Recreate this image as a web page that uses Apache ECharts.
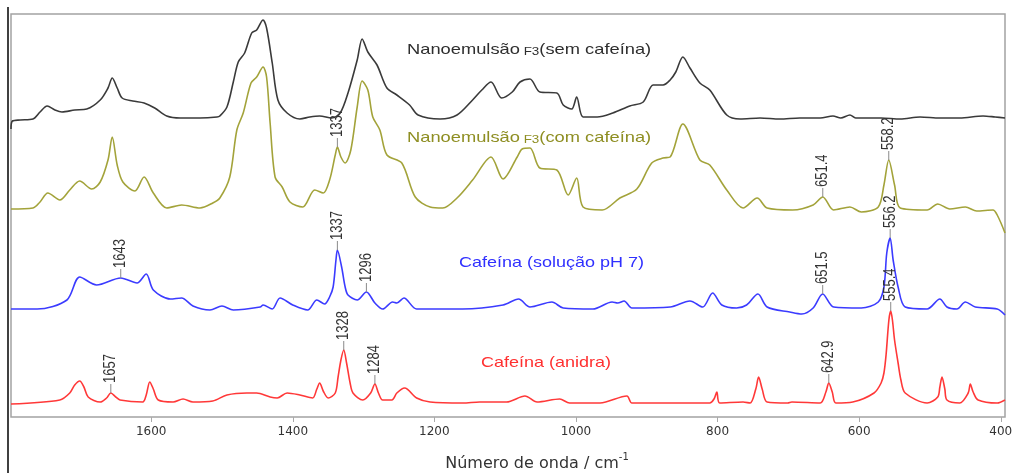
<!DOCTYPE html>
<html><head><meta charset="utf-8">
<script src="https://cdn.jsdelivr.net/npm/echarts@6/dist/echarts.min.js"></script>
<style>html,body{margin:0;padding:0;background:#fff}#c{width:1015px;height:473px}</style>
</head><body><div id="c"></div>
<script>
// x tick labels (cm-1)
const ticks = [1600, 1400, 1200, 1000, 800, 600, 400];

// Nanoemulsão F3 (sem cafeína) — [wavenumber, intensity (arb.)]
const semCafeina = [[1798,288],[1796,296],[1785,297],[1767,298],[1757,305],[1747,311],[1736,307],[1726,305],[1708,307],[1691,308],[1672,317],[1661,329],[1655,339],[1648,329],[1641,319],[1626,316],[1610,314],[1595,309],[1578,301],[1559,299],[1531,299],[1507,300],[1503,301],[1493,310],[1484,335],[1477,355],[1468,364],[1458,384],[1451,387],[1442,397],[1437,389],[1429,354],[1421,317],[1408,304],[1390,298],[1376,300],[1362,301],[1345,299],[1333,304],[1322,324],[1309,357],[1302,378],[1294,365],[1281,352],[1267,329],[1253,322],[1235,312],[1223,302],[1192,298],[1168,302],[1146,317],[1133,327],[1120,335],[1105,319],[1090,325],[1079,335],[1065,338],[1051,325],[1027,324],[1018,312],[1006,308],[999,320],[990,300],[970,300],[948,304],[924,311],[905,315],[891,332],[877,332],[867,337],[859,345],[849,360],[839,349],[825,334],[811,327],[787,302],[768,298],[740,299],[712,298],[684,299],[655,299],[637,301],[626,299],[613,302],[605,299],[569,299],[542,298],[514,300],[486,299],[458,299],[425,301],[408,300],[394,299]];

// Nanoemulsão F3 (com cafeína)
const comCafeina = [[1798,208],[1767,209],[1757,215],[1746,224],[1729,217],[1715,227],[1701,236],[1684,228],[1672,235],[1661,257],[1655,280],[1648,252],[1640,235],[1623,226],[1610,240],[1597,224],[1578,209],[1557,212],[1531,209],[1513,214],[1503,219],[1489,240],[1479,287],[1470,304],[1459,334],[1451,340],[1442,350],[1437,340],[1432,294],[1425,240],[1415,230],[1404,215],[1386,210],[1369,227],[1357,224],[1348,237],[1340,262],[1337,270],[1332,260],[1326,254],[1318,267],[1309,310],[1302,336],[1294,327],[1287,300],[1277,287],[1267,262],[1246,254],[1227,220],[1206,210],[1188,209],[1168,219],[1146,237],[1120,260],[1103,238],[1083,260],[1076,268],[1065,269],[1051,249],[1027,247],[1011,222],[999,239],[990,210],[963,207],[938,219],[914,228],[893,254],[877,259],[867,260],[849,293],[825,257],[811,252],[787,227],[764,209],[744,219],[730,209],[694,207],[665,212],[651.4,220],[636,207],[613,210],[597,205],[573,210],[565,232],[558.2,257],[550,232],[542,209],[504,207],[489,213],[472,208],[450,210],[434,206],[411,207],[405,202],[394,184]];

// Cafeína (solução pH 7)
const solucao = [[1798,108],[1761,108],[1719,117],[1701,140],[1677,132],[1643,139],[1620,134],[1607,143],[1597,127],[1573,118],[1557,119],[1541,111],[1517,107],[1500,111],[1484,107],[1446,110],[1442,112],[1429,108],[1418,119],[1400,112],[1379,107],[1366,117],[1355,113],[1348,120],[1343,130],[1339,157],[1337,167],[1331,150],[1326,130],[1322,122],[1309,117],[1296,125],[1284,114],[1273,108],[1259,115],[1253,114],[1243,119],[1225,108],[1160,108],[1103,112],[1081,118],[1065,110],[1034,115],[1018,109],[976,108],[949,115],[941,114],[932,116],[921,109],[867,110],[839,116],[821,110],[807,124],[794,112],[773,109],[759,112],[743,123],[730,110],[698,105],[681,103],[665,109],[651.5,123],[636,110],[597,109],[573,115],[565,130],[561,164],[556.2,179],[552,157],[545,130],[535,110],[504,108],[486,118],[476,110],[462,108],[450,115],[436,110],[405,108],[394,102]];

// Cafeína (anidra)
const anidra = [[1798,13],[1729,17],[1715,24],[1708,32],[1701,36],[1695,30],[1689,20],[1672,15],[1663,19],[1657,24],[1650,20],[1644,17],[1612,15],[1607,22],[1602,35],[1597,28],[1590,17],[1569,15],[1555,18],[1541,15],[1513,16],[1493,22],[1465,24],[1451,24],[1432,20],[1422,19],[1408,24],[1390,22],[1372,19],[1366,28],[1362,34],[1357,26],[1350,19],[1340,24],[1336,40],[1332,57],[1328,67],[1324,54],[1319,34],[1315,24],[1301,17],[1290,24],[1284,33],[1279,24],[1273,17],[1260,17],[1253,24],[1242,29],[1225,19],[1206,15],[1160,14],[1136,15],[1098,15],[1072,21],[1055,15],[1023,18],[1009,14],[966,14],[928,21],[921,14],[867,14],[811,14],[805,18],[801,25],[797,14],[764,15],[754,14],[746,28],[742,40],[737,28],[730,15],[701,14],[695,15],[655,14],[647,25],[642.9,34],[638,25],[633,14],[609,15],[579,24],[569,34],[565,44],[562,62],[558,97],[555.4,106],[553,97],[550,77],[545,54],[541,37],[535,24],[504,14],[489,20],[486,30],[483,40],[479,28],[476,17],[458,14],[446,24],[443,33],[439,25],[432,17],[405,14],[394,17]];

// Peak annotations
const annotSeries = ['com','com','com','sol','sol','sol','sol','sol','ani','ani','ani','ani','ani'];
const annotWn     = [1337, 651.4, 558.2, 1643, 1337, 1296, 651.5, 556.2, 1657, 1328, 1284, 642.9, 555.4];
const annotText   = ['1337','651.4','558.2','1643','1337','1296','651.5','556.2','1657','1328','1284','642.9','555.4'];

const bySeries = {sem: semCafeina, com: comCafeina, sol: solucao, ani: anidra};
const annotData = annotWn.map((w, i) => {
  const pt = bySeries[annotSeries[i]].find(d => d[0] === w);
  return [w, pt[1], i];
});

const chart = echarts.init(document.getElementById('c'), null, {renderer: 'canvas'});
const lineS = (name, data, color) => ({
  name, type: 'line', data, showSymbol: false, symbol: 'none',
  smooth: 0.3, lineStyle: {color, width: 1.6}, itemStyle: {color}, z: 2
});
const FF = '"Liberation Sans", Arial, sans-serif';
chart.setOption({
  animation: false,
  grid: {left: 11, right: 10, top: 14, bottom: 56, show: true, borderColor: '#a3a3a3', borderWidth: 1.5, outerBoundsMode: 'none', containLabel: false},
  xAxis: {
    type: 'value', inverse: true, min: 394, max: 1798,
    axisLine: {show: false}, splitLine: {show: false},
    axisTick: {show: true, customValues: ticks, length: 5, lineStyle: {color: '#aaaaaa', width: 1}},
    axisLabel: {customValues: ticks, formatter: v => String(v), fontFamily: 'DejaVu Sans', fontSize: 12, color: '#333', margin: 9},
    name: '{n|Número de onda / cm}{sup|-1}', nameLocation: 'middle', nameGap: 35,
    nameTextStyle: {
      padding: [0, 0, 0, 58],
      rich: {
        n: {fontFamily: 'DejaVu Sans', fontSize: 16, color: '#333', verticalAlign: 'bottom', lineHeight: 20},
        sup: {fontFamily: 'DejaVu Sans', fontSize: 10, color: '#333', verticalAlign: 'top', lineHeight: 14}
      }
    }
  },
  yAxis: {type: 'value', min: 0, max: 403, show: false},
  series: [
    lineS('Nanoemulsão F3 (sem cafeína)', semCafeina, '#3a3a3a'),
    lineS('Nanoemulsão F3 (com cafeína)', comCafeina, '#a3a33a'),
    lineS('Cafeína (solução pH 7)', solucao, '#3b3bff'),
    lineS('Cafeína (anidra)', anidra, '#ff3838'),
    {
      type: 'custom', data: annotData, encode: {x: 0, y: 1}, z: 5, clip: false,
      renderItem: function (params, api) {
        const p = api.coord([api.value(0), api.value(1)]);
        const idx = api.value(2);
        return {type: 'group', children: [
          {type: 'line', shape: {x1: p[0], y1: p[1], x2: p[0], y2: p[1] - 9},
           style: {stroke: '#8a8a8a', lineWidth: 1}},
          {type: 'text', x: p[0], y: p[1] - 10, rotation: Math.PI / 2, scaleY: 1.22,
           style: {text: annotText[idx], font: '13px ' + FF, fill: '#333', align: 'left', verticalAlign: 'middle'}}
        ]};
      }
    }
  ],
  graphic: [
    {type: 'line', shape: {x1: 8, y1: 7, x2: 8, y2: 473}, style: {stroke: '#000', lineWidth: 1.5}},
    {type: 'text', x: 407, y: 50, scaleX: 1.22, style: {
      text: '{n|Nanoemulsão}{s| F3}{n|(sem cafeína)}', verticalAlign: 'middle', align: 'left',
      rich: {n: {fontSize: 15, fontFamily: FF, fill: '#2e2e2e', verticalAlign: 'bottom'},
             s: {fontSize: 11, fontFamily: FF, fill: '#2e2e2e', verticalAlign: 'bottom'}}}},
    {type: 'text', x: 407, y: 138, scaleX: 1.22, style: {
      text: '{n|Nanoemulsão}{s| F3}{n|(com cafeína)}', verticalAlign: 'middle', align: 'left',
      rich: {n: {fontSize: 15, fontFamily: FF, fill: '#8e8e22', verticalAlign: 'bottom'},
             s: {fontSize: 11, fontFamily: FF, fill: '#8e8e22', verticalAlign: 'bottom'}}}},
    {type: 'text', x: 459, y: 263, scaleX: 1.2, style: {
      text: 'Cafeína (solução pH 7)', font: '15px ' + FF, fill: '#3030ff', verticalAlign: 'middle', align: 'left'}},
    {type: 'text', x: 481, y: 363, scaleX: 1.2, style: {
      text: 'Cafeína (anidra)', font: '15px ' + FF, fill: '#ff3030', verticalAlign: 'middle', align: 'left'}}
  ]
});
</script></body></html>
